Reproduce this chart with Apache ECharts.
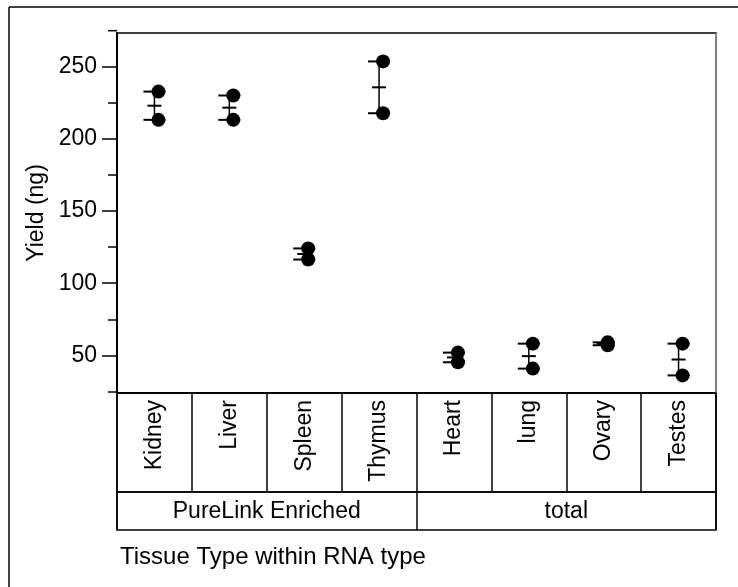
<!DOCTYPE html>
<html>
<head>
<meta charset="utf-8">
<script src="https://cdn.jsdelivr.net/npm/echarts@6/dist/echarts.min.js"></script>
<style>
  html, body { margin: 0; padding: 0; background: #fff; }
  #chart { width: 738px; height: 587px; }
</style>
</head>
<body>
<div id="chart"></div>
<script>
// Tissue categories, grouped by RNA type
var categories = ['Kidney', 'Liver', 'Spleen', 'Thymus', 'Heart', 'lung', 'Ovary', 'Testes'];
var groups = ['PureLink Enriched', 'total'];
// Two replicate yields (ng) per tissue
var replicate1 = [232.8, 230.1, 124.1, 253.7, 51.9, 58.1, 59.0, 58.1];
var replicate2 = [213.2, 213.2, 116.4, 217.8, 45.2, 40.8, 57.0, 36.1];
// Y axis tick values
var yLabelTicks = [50, 100, 150, 200, 250];
var yMinorTicks = [25, 75, 125, 175, 225, 275];

var FONT = '"Liberation Sans", Arial, sans-serif';
var FS = 23;

// points and mean +/- standard error per tissue
var pointData = [];
var barData = [];
categories.forEach(function (c, i) {
  var vals = [replicate1[i], replicate2[i]];
  var n = vals.length;
  var mean = vals.reduce(function (s, v) { return s + v; }, 0) / n;
  var ss = vals.reduce(function (s, v) { return s + (v - mean) * (v - mean); }, 0);
  var se = Math.sqrt(ss / (n - 1)) / Math.sqrt(n);
  vals.forEach(function (v) { pointData.push([i, v]); });
  barData.push([i, mean, mean - se, mean + se]);
});

var chart = echarts.init(document.getElementById('chart'), null, { renderer: 'canvas' });

var option = {
  animation: false,
  backgroundColor: '#fff',
  textStyle: { fontFamily: FONT, color: '#000' },
  title: {
    text: 'Tissue Type within RNA type',
    left: 115, top: 540,
    textStyle: { fontFamily: FONT, fontSize: 24, fontWeight: 'normal', color: '#000' }
  },
  grid: [
    { left: 117, right: 22, top: 33, height: 360, show: true, borderColor: '#000', borderWidth: 1.5, backgroundColor: 'transparent' },
    { left: 117, right: 22, top: 393, height: 99, show: true, borderColor: '#000', borderWidth: 1.5, backgroundColor: 'transparent' },
    { left: 117, right: 22, top: 492, height: 38, show: true, borderColor: '#000', borderWidth: 1.5, backgroundColor: 'transparent' }
  ],
  xAxis: [
    {
      type: 'category', gridIndex: 0, data: categories, boundaryGap: true,
      axisLine: { lineStyle: { color: '#000', width: 1.5 } },
      axisTick: { show: false },
      axisLabel: { interval: 0, rotate: 90, margin: 7, padding: [8, 0, 0, 0], fontSize: FS, color: '#000', fontFamily: FONT },
      splitLine: {
        show: true,
        interval: function (index) { return index === 4; },
        lineStyle: { color: '#808080', width: 2 }
      }
    },
    {
      type: 'category', gridIndex: 1, data: categories, boundaryGap: true,
      axisLine: { show: false }, axisTick: { show: false }, axisLabel: { show: false },
      splitLine: { show: true, interval: 0, lineStyle: { color: '#000', width: 1.5 } }
    },
    {
      type: 'category', gridIndex: 2, data: groups, boundaryGap: true,
      axisLine: { show: false }, axisTick: { show: false },
      axisLabel: { interval: 0, inside: true, margin: 7, fontSize: FS, color: '#000', fontFamily: FONT },
      splitLine: { show: true, interval: 0, lineStyle: { color: '#000', width: 1.5 } }
    }
  ],
  yAxis: [
    {
      type: 'value', gridIndex: 0, min: 23.9, max: 273.4,
      name: 'Yield (ng)', nameLocation: 'middle', nameGap: 65,
      nameTextStyle: { fontSize: FS, color: '#000', fontFamily: FONT },
      axisLine: { show: true, lineStyle: { color: '#000', width: 2 } },
      axisTick: { show: true, length: 15, customValues: yLabelTicks, lineStyle: { color: '#000', width: 1.5 } },
      axisLabel: { customValues: yLabelTicks, fontSize: FS, color: '#000', fontFamily: FONT, margin: 20 },
      splitLine: { show: false }
    },
    {
      type: 'value', gridIndex: 0, min: 23.9, max: 273.4, position: 'left',
      axisLine: { show: false },
      axisTick: { show: true, length: 9, customValues: yMinorTicks, lineStyle: { color: '#000', width: 1.5 } },
      axisLabel: { show: false },
      splitLine: { show: false }
    },
    { type: 'value', gridIndex: 1, show: false },
    { type: 'value', gridIndex: 2, show: false }
  ],
  series: [
    {
      type: 'custom', name: 'mean', xAxisIndex: 0, yAxisIndex: 0,
      data: barData,
      renderItem: function (params, api) {
        var idx = api.value(0);
        var pMean = api.coord([idx, api.value(1)]);
        var pLo = api.coord([idx, api.value(2)]);
        var pHi = api.coord([idx, api.value(3)]);
        var x = pMean[0];
        var s = { stroke: '#000', lineWidth: 2 };
        return {
          type: 'group',
          children: [
            { type: 'line', shape: { x1: x, y1: pHi[1], x2: x, y2: pLo[1] }, style: { stroke: '#000', lineWidth: 1.5 } },
            { type: 'line', shape: { x1: x - 11, y1: pHi[1], x2: x + 11, y2: pHi[1] }, style: s },
            { type: 'line', shape: { x1: x - 11, y1: pLo[1], x2: x + 11, y2: pLo[1] }, style: s },
            { type: 'line', shape: { x1: x - 7, y1: pMean[1], x2: x + 7, y2: pMean[1] }, style: s }
          ]
        };
      }
    },
    {
      type: 'scatter', name: 'Yield', xAxisIndex: 0, yAxisIndex: 0,
      data: pointData, symbol: 'circle', symbolSize: 14, symbolOffset: [4, 0],
      itemStyle: { color: '#000', opacity: 1 }
    }
  ]
};

chart.setOption(option);

// outer frame and the 275 tick just above the plot
var tickY = chart.convertToPixel({ yAxisIndex: 0 }, 275);
chart.setOption({
  graphic: [
    { type: 'line', shape: { x1: 9, y1: 7, x2: 738, y2: 7 }, style: { stroke: '#000', lineWidth: 1.5 } },
    { type: 'line', shape: { x1: 9, y1: 7, x2: 9, y2: 587 }, style: { stroke: '#000', lineWidth: 1.5 } },
    { type: 'line', shape: { x1: 108, y1: tickY, x2: 117, y2: tickY }, style: { stroke: '#000', lineWidth: 1.5 } }
  ]
});
</script>
</body>
</html>
